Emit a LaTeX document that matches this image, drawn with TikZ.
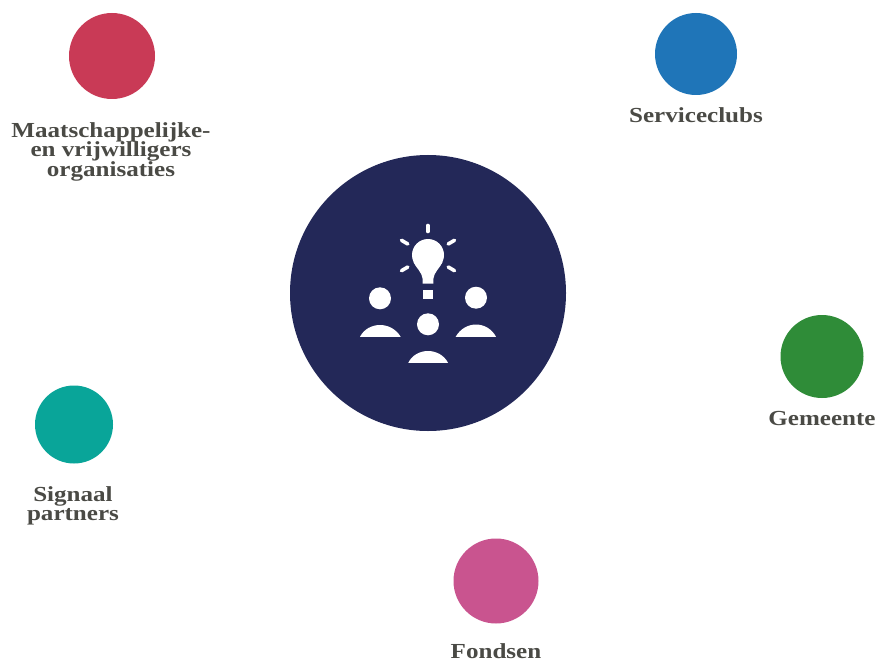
\documentclass[tikz,border=0pt]{standalone}
\usepackage{fontspec}
\setmainfont{Liberation Serif}[FakeStretch=1.17]
\lineskiplimit=-100pt
\normallineskiplimit=-100pt
\definecolor{navy}{HTML}{232858}
\definecolor{cred}{HTML}{C93A56}
\definecolor{cblue}{HTML}{1F75B8}
\definecolor{cgreen}{HTML}{2F8C38}
\definecolor{cteal}{HTML}{09A599}
\definecolor{cpink}{HTML}{C9548F}
\definecolor{txt}{HTML}{4A4A45}
\tikzset{
  dot/.style={circle,inner sep=0pt,outer sep=0pt,minimum size=#1*2bp},
  lab/.style={text=txt,font=\fontsize{21.5}{19.6}\selectfont\bfseries,align=center,inner sep=0pt},
  ray/.style={white,line width=3.6bp,line cap=round},
  icon/.style={fill=white,draw=none}
}
\begin{document}
\begin{tikzpicture}[x=1bp,y=-1bp]
\useasboundingbox (0,0) rectangle (878,661);
\fill[white] (0,0) rectangle (878,661);
\node[dot=43,fill=cred] (red) at (112,56) {};
\node[dot=41,fill=cblue] (blue) at (696,54) {};
\node[dot=41.5,fill=cgreen] (green) at (822,356.5) {};
\node[dot=39,fill=cteal] (teal) at (74,424.5) {};
\node[dot=42.5,fill=cpink] (pink) at (496,581) {};
\node[dot=138,fill=navy] (hub) at (428,293) {};
\node[lab] (lred) at (111,151.5) {Maatschappelijke-\\en vrijwilligers\\organisaties};
\node[lab] (lblue) at (696,115.5) {Serviceclubs};
\node[lab] (lgreen) at (822,418.5) {Gemeente};
\node[lab] (lteal) at (73,506) {Signaal\\partners};
\node[lab] (lpink) at (496,651) {Fondsen};
% icon
\draw[ray] (427.7,225.5) -- (427.7,231.5);
\draw[ray] (401.5,240.3) -- (407.8,244);
\draw[ray] (454.5,240.3) -- (448.2,244);
\draw[ray] (401.5,270.7) -- (407.8,267);
\draw[ray] (454.5,270.7) -- (448.2,267);
\node[dot=16,icon] (bulb) at (428,255) {};
\fill[icon] (413.5,262) .. controls (416,268) and (422,272) .. (422.7,279) -- (422.7,283.5) -- (433.3,283.5) -- (433.3,279)
  .. controls (434,272) and (440,268) .. (442.5,262) -- cycle;
\fill[icon] (422.7,290) rectangle (433.3,299);
\node[dot=11,icon] (h1) at (380,298.3) {};
\node[dot=11,icon] (h2) at (476,297.7) {};
\node[dot=11,icon] (h3) at (428,324.3) {};
\fill[icon] (360,336.8) .. controls (364,329) and (372,325) .. (380,325) .. controls (388,325) and (396,329) .. (400.7,336.8) -- cycle;
\fill[icon] (455.7,336.8) .. controls (460,329) and (468,324.5) .. (476,324.5) .. controls (484,324.5) and (492,329) .. (496,336.8) -- cycle;
\fill[icon] (408.3,362.8) .. controls (412,355) and (420,351) .. (428,351) .. controls (436,351) and (444,355) .. (448,362.8) -- cycle;
\end{tikzpicture}
\end{document}
